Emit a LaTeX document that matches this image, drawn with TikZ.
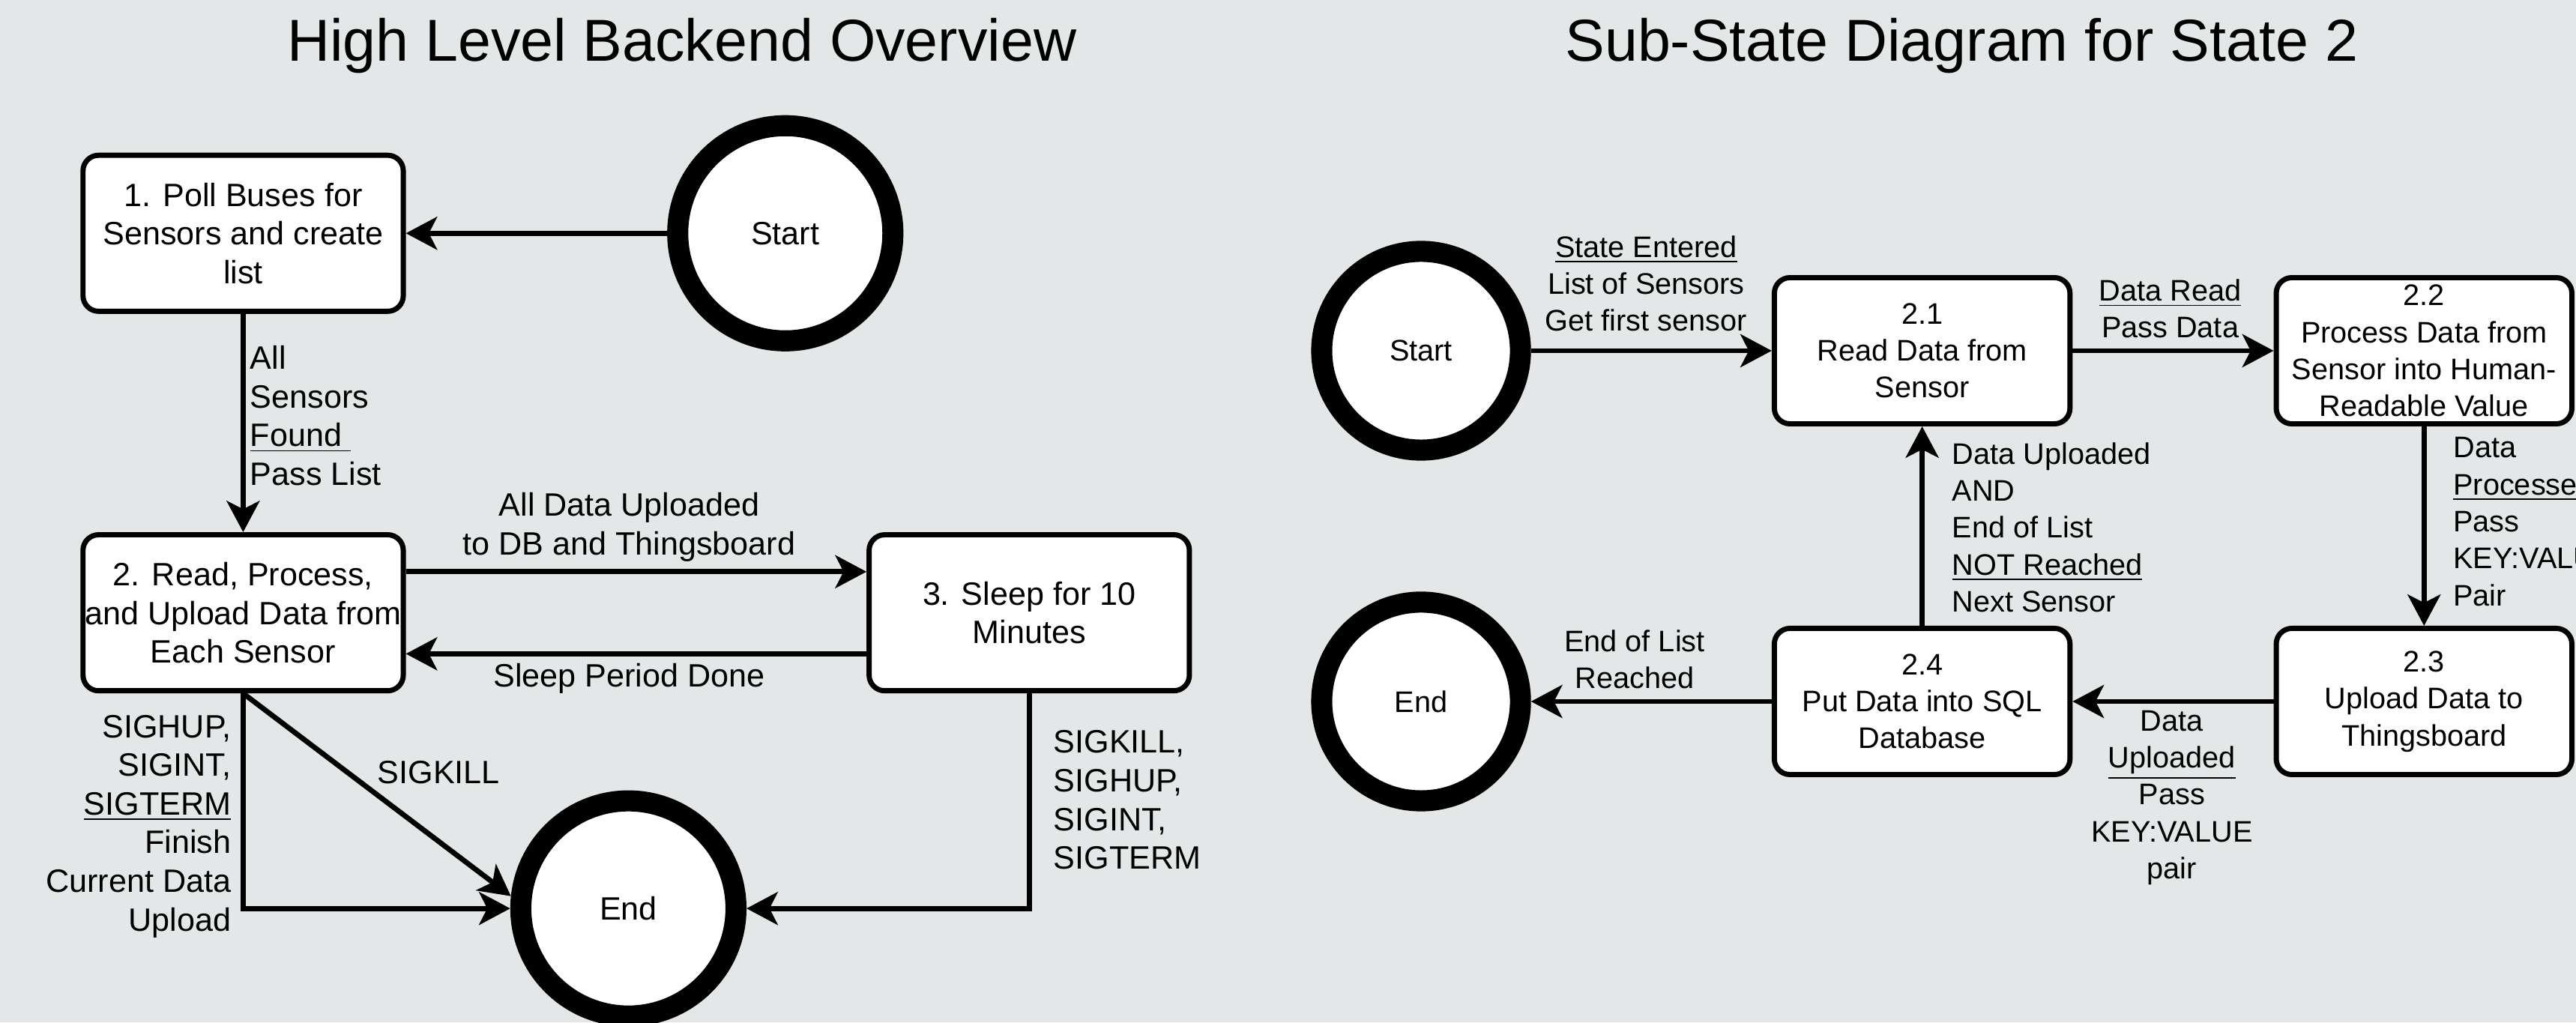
\documentclass[tikz,border=0pt]{standalone}
\usepackage{fontspec}
\setmainfont{Liberation Sans}
\usetikzlibrary{arrows.meta}
\definecolor{canvas}{RGB}{228,231,232}
\tikzset{
  flow/.style={-{Stealth[length=0.38cm,width=0.4cm,inset=0.1cm]}, line width=1.8pt},
  state/.style={draw, fill=white, rounded corners=0.19cm, line width=1.8pt, inner sep=0pt, align=center},
  bigstate/.style={state, minimum width=3.9cm, minimum height=1.9cm, font=\fontsize{11.2}{13.4}\selectfont},
  smallstate/.style={state, minimum width=3.6cm, minimum height=1.78cm, font=\fontsize{10.3}{12.8}\selectfont},
  terminal/.style={draw, fill=white, circle, line width=7.3pt, inner sep=0pt},
  lbl/.style={inner sep=0pt, font=\fontsize{11.2}{13.4}\selectfont},
  slbl/.style={inner sep=0pt, font=\fontsize{10.3}{12.8}\selectfont},
  heading/.style={inner sep=0pt, font=\fontsize{20.5}{24}\selectfont}
}

\begin{document}
\begin{tikzpicture}[x=0.02cm, y=-0.02cm]
    \fill[canvas] (0,0) rectangle (1568,622.3);
    \useasboundingbox (0,0) rectangle (1568,622.3);

    % main loop
    \node[heading] (titleL) at (415,28) {High Level Backend Overview};
    \node[bigstate] (poll) at (148,142) {1. Poll Buses for\\Sensors and create\\list};
    \node[bigstate] (work) at (148,373) {2. Read, Process,\\and Upload Data from\\Each Sensor};
    \node[bigstate] (sleep) at (626.5,373) {3. Sleep for 10\\Minutes};
    \node[terminal, minimum size=2.62cm, font=\fontsize{11.2}{13.4}\selectfont] (startL) at (478,142) {Start};
    \node[terminal, minimum size=2.62cm, font=\fontsize{11.2}{13.4}\selectfont] (stopL) at (382.5,553) {End};

    \draw[flow] (startL.west) -- (poll.east);
    \draw[flow] (poll.south) -- (work.north);
    \draw[flow] ([yshift=0.5cm]work.east) -- ([yshift=0.5cm]sleep.west);
    \draw[flow] ([yshift=-0.5cm]sleep.west) -- ([yshift=-0.5cm]work.east);
    \draw[flow] (work.south) -- (stopL.174);
    \draw[flow] (work.south) |- (stopL.west);
    \draw[flow] (sleep.south) |- (stopL.east);

    \node[lbl, anchor=west, align=left] (lFound) at (152,253) {All\\Sensors\\\underline{Found\ }\\Pass List};
    \node[lbl, align=center] (lDone) at (383,321) {All Data Uploaded\\to DB and Thingsboard};
    \node[lbl] (lWake) at (383,413) {Sleep Period Done};
    \node[lbl, anchor=east, align=right] (lSig) at (141,503) {SIGHUP,\\SIGINT,\\\underline{SIGTERM}\\Finish\\Current Data\\Upload};
    \node[lbl] (lKill) at (267,470) {SIGKILL};
    \node[lbl, anchor=west, align=left] (lSigS) at (641,487) {SIGKILL,\\SIGHUP,\\SIGINT,\\SIGTERM};

    % state 2 in detail
    \node[heading] (titleR) at (1194,28) {Sub-State Diagram for State 2};
    \node[smallstate] (s21) at (1170,213.5) {2.1\\Read Data from\\Sensor};
    \node[smallstate] (s22) at (1475.5,213.5) {2.2\\Process Data from\\Sensor into Human-\\Readable Value};
    \node[smallstate] (s23) at (1475.5,427) {2.3\\Upload Data to\\Thingsboard};
    \node[smallstate] (s24) at (1170,427) {2.4\\Put Data into SQL\\Database};
    \node[terminal, minimum size=2.42cm, font=\fontsize{10.3}{12.8}\selectfont] (startR) at (865,213.5) {Start};
    \node[terminal, minimum size=2.42cm, font=\fontsize{10.3}{12.8}\selectfont] (stopR) at (865,427) {End};

    \draw[flow] (startR.east) -- (s21.west);
    \draw[flow] (s21.east) -- (s22.west);
    \draw[flow] (s22.south) -- (s23.north);
    \draw[flow] (s23.west) -- (s24.east);
    \draw[flow] (s24.north) -- (s21.south);
    \draw[flow] (s24.west) -- (stopR.east);

    \node[slbl, align=center] (lEnter) at (1002,172.5) {\underline{State Entered}\\List of Sensors\\Get first sensor};
    \node[slbl, align=center] (lRead) at (1321,188) {\underline{Data Read}\\Pass Data};
    \node[slbl, anchor=west, align=left] (lProc) at (1493,317.5) {Data\\\underline{Processed}\\Pass\\KEY:VALUE\\Pair};
    \node[slbl, align=center] (lUp) at (1322,485.5) {Data\\\underline{Uploaded}\\Pass\\KEY:VALUE\\pair};
    \node[slbl, anchor=west, align=left] (lNext) at (1188,321) {Data Uploaded\\AND\\End of List\\\underline{NOT Reached}\\Next Sensor};
    \node[slbl, align=center] (lLast) at (995,401.5) {End of List\\Reached};
\end{tikzpicture}
\end{document}
